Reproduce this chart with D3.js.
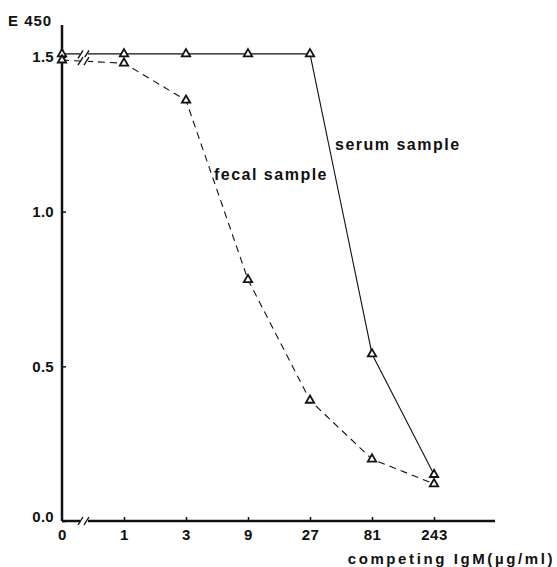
<!DOCTYPE html>
<html>
<head>
<meta charset="utf-8">
<script src="https://d3js.org/d3.v7.min.js"></script>
<style>
  body { margin: 0; background: #fff; }
  text { font-family: "Liberation Sans", Arial, sans-serif; font-weight: bold; fill: #111; }
</style>
</head>
<body>
<div id="graph"></div>
<script>
// data
var doses = ["0", "1", "3", "9", "27", "81", "243"];
var serum = [1.51, 1.51, 1.51, 1.51, 1.51, 0.54, 0.15];
var fecal = [1.49, 1.48, 1.36, 0.78, 0.39, 0.20, 0.12];
var yTicks = [0.0, 0.5, 1.0, 1.5];

var W = 557, H = 567;
var svg = d3.select("#graph").append("svg")
    .attr("width", W).attr("height", H);

var x = d3.scalePoint().domain(doses).range([62, 434]);
var y = d3.scaleLinear().domain([0, 1.5]).range([521, 57]);

// axes
var xAxis = svg.append("g")
    .attr("transform", "translate(0," + y(0) + ")")
    .call(d3.axisBottom(x).tickSize(-4).tickPadding(6));
xAxis.select(".domain").attr("d", "M62,0H495").attr("stroke-width", 2.5).attr("stroke", "#111");
xAxis.selectAll(".tick line").attr("stroke-width", 1.5).attr("stroke", "#111");
xAxis.selectAll(".tick").filter(d => d === "0").select("line").remove();
xAxis.selectAll("text").style("font-size", "15px").attr("letter-spacing", "0.5px").attr("dy", "0.85em");

var yAxis = svg.append("g")
    .attr("transform", "translate(62,0)")
    .call(d3.axisLeft(y).tickValues(yTicks).tickFormat(d3.format(".1f")).tickSize(-4).tickPadding(8));
yAxis.select(".domain").attr("d", "M0,25V" + y(0)).attr("stroke-width", 2.5).attr("stroke", "#111");
yAxis.selectAll(".tick line").attr("stroke-width", 1.5).attr("stroke", "#111");
yAxis.selectAll("text").style("font-size", "15px").attr("letter-spacing", "0.3px");
yAxis.selectAll(".tick").filter(d => d === 0).select("text").attr("dy", "0.05em");

svg.append("text").attr("x", 8).attr("y", 26)
    .style("font-size", "15px").attr("letter-spacing", "1px").text("E 450");

svg.append("text").attr("x", 555).attr("y", 564).attr("text-anchor", "end")
    .style("font-size", "15px").attr("letter-spacing", "2.6px").text("competing IgM(\u00b5g/ml)");

// lines
var line = d3.line().x((d, i) => x(doses[i])).y(d => y(d));
svg.append("path").datum(serum).attr("d", line)
    .attr("fill", "none").attr("stroke", "#111").attr("stroke-width", 1.1);
svg.append("path").datum(fecal).attr("d", line)
    .attr("fill", "none").attr("stroke", "#111").attr("stroke-width", 1.1)
    .attr("stroke-dasharray", "7,5");

// break marks between 0 and 1
function brk(yy) {
  var g = svg.append("g");
  g.append("rect").attr("x", 80).attr("y", yy - 4).attr("width", 8).attr("height", 8).attr("fill", "#fff");
  [80, 86].forEach(function (bx) {
    g.append("line").attr("x1", bx - 2).attr("y1", yy + 4).attr("x2", bx + 3).attr("y2", yy - 4)
      .attr("stroke", "#111").attr("stroke-width", 1.4);
  });
}
brk(y(serum[0]) + 0.5);
brk(y(fecal[0]) + 1);
brk(y(0));

// markers
var tri = d3.symbol().type(d3.symbolTriangle).size(30);
[serum, fecal].forEach(function (s) {
  svg.append("g").selectAll("path").data(s).enter().append("path")
    .attr("d", tri)
    .attr("transform", (d, i) => "translate(" + x(doses[i]) + "," + y(d) + ")")
    .attr("fill", "#fff").attr("stroke", "#111").attr("stroke-width", 1.8);
});

svg.append("text").attr("x", 335).attr("y", 150)
    .style("font-size", "16px").attr("letter-spacing", "1.5px").text("serum sample");
svg.append("text").attr("x", 328).attr("y", 180).attr("text-anchor", "end")
    .style("font-size", "16px").attr("letter-spacing", "1.5px").text("fecal sample");
</script>
</body>
</html>
